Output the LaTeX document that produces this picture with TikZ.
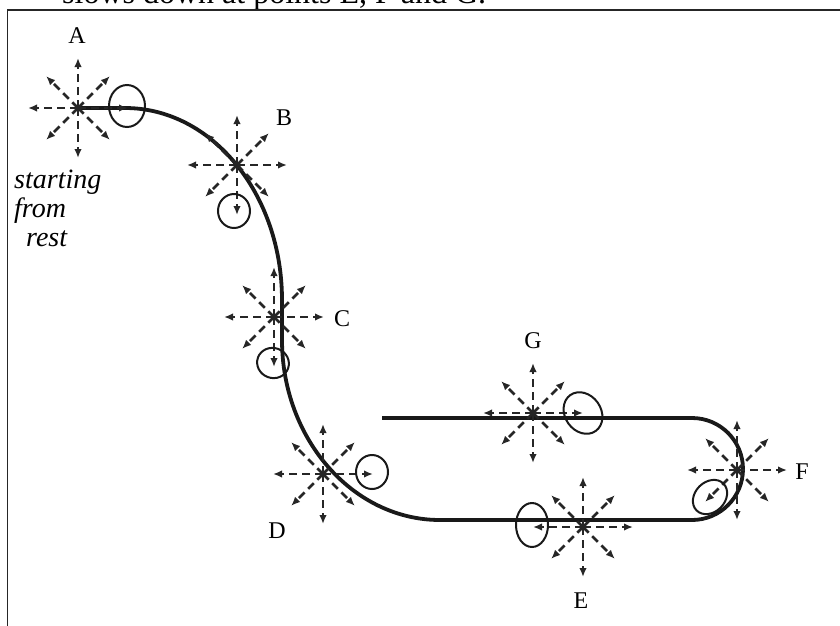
\documentclass[tikz,border=0pt]{standalone}
\usepackage{fontspec}
\setmainfont{Liberation Serif}
\usepackage{tikz}
\usetikzlibrary{arrows.meta}

\newcommand{\burst}[1]{%
  \foreach \a in {0,90,180,270} \draw[ray] (#1) -- ++(\a:50);
  \foreach \a in {45,135,225,315} \draw[ray] (#1) -- ++(\a:45);
}

\begin{document}
\begin{tikzpicture}[
  x=1pt, y=-1pt,
  every node/.style={align=center},
  track/.style ={line width=3.8pt, draw=black!90},
  ray/.style   ={draw=black!85, line width=2.6pt, dash pattern=on 8pt off 5pt,
                 -{Latex[length=9pt,width=7.5pt]}},
  hand/.style  ={draw=black!90, line width=2pt},
  lbl/.style   ={font=\fontsize{24}{26}\selectfont},
  frame/.style ={draw=black!85, line width=1.8pt},
]
\useasboundingbox (0,0) rectangle (840,625);
\clip (0,0) rectangle (840,625);

% Text of the question, cut by the page edge
\node[anchor=base west, inner sep=0pt, font=\fontsize{32}{34}\selectfont] (question) at (62,3)
  {slows down at points E, F and G.};

% Frame
\draw[frame] (7.5,660) -- (7.5,10) -- (860,10);

% Points on the track
\coordinate (ptA) at (78,108);
\coordinate (ptB) at (237,165);
\coordinate (ptC) at (274,317);
\coordinate (ptD) at (323,474);
\coordinate (ptE) at (583,527);
\coordinate (ptF) at (737,470);
\coordinate (ptG) at (533,413);

% Track
\coordinate (topA)  at (125,108);
\coordinate (vert1) at (282,300);
\coordinate (vert2) at (282,340);
\coordinate (botL)  at (440,520);
\coordinate (botR)  at (692,520);
\coordinate (topL)  at (382,418);
\draw[track] (ptA) -- (topA)
   .. controls (212,108) and (282,194) .. (vert1) -- (vert2)
   .. controls (282,439) and (353,520) .. (botL) -- (botR)
   arc[start angle=90, end angle=-90, radius=51] -- (topL);

% Bursts of possible accelerations
\burst{ptA}
\burst{ptB}
\burst{ptC}
\burst{ptD}
\burst{ptE}
\burst{ptF}
\burst{ptG}

% Labels
\node[lbl] (labA) at (77,36)   {A};
\node[lbl] (labB) at (284,118) {B};
\node[lbl] (labC) at (342,319) {C};
\node[lbl] (labD) at (277,531) {D};
\node[lbl] (labE) at (581,601) {E};
\node[lbl] (labF) at (802,472) {F};
\node[lbl] (labG) at (533,341) {G};

% Hand drawn answers
\draw[hand] (127,106) ellipse (18 and 21);
\draw[hand] (234,211) ellipse (16 and 17);
\draw[hand, rotate around={-20:(273,363)}] (273,363) ellipse (16 and 15);
\draw[hand] (372,472) ellipse (16 and 17);
\draw[hand, rotate around={35:(583,413)}] (583,413) ellipse (18 and 22);
\draw[hand] (532,525) ellipse (16 and 22);
\draw[hand, rotate around={-45:(710,497)}] (710,497) ellipse (15 and 19);

\node[anchor=north west, align=left, inner sep=0pt,
      font=\fontsize{28}{29}\selectfont\itshape] (rest)
  at (14,170) {starting\\from\\\hspace{12pt}rest};

\end{tikzpicture}
\end{document}
